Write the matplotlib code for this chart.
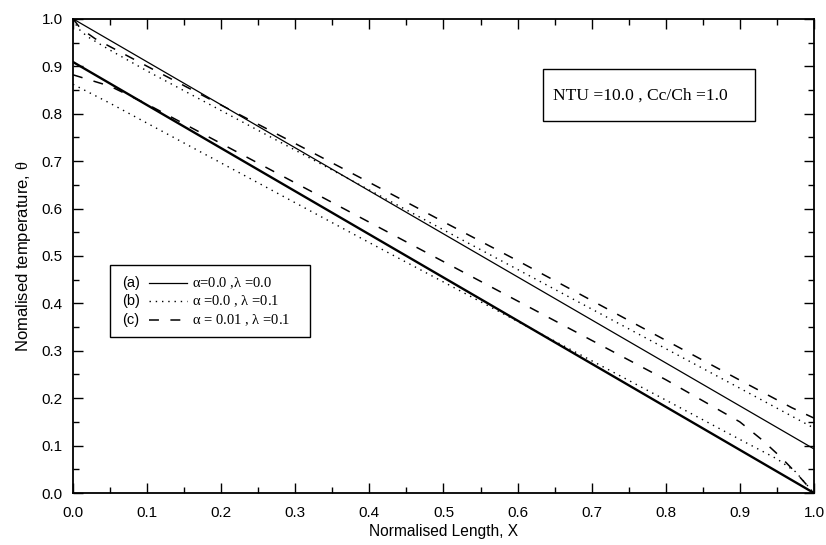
import matplotlib.pyplot as plt
import numpy as np
from matplotlib.patches import Rectangle
from matplotlib.ticker import MultipleLocator

# (a) alpha=0.0, lambda=0.0 : hot and cold fluid profiles
x_a = [0.0, 1.0]
hot_a = [1.0, 0.093]
cold_a = [0.909, 0.0]

# (b) alpha=0.0, lambda=0.1
x_b_hot = [0.0, 0.005, 0.01, 0.02, 0.05, 0.1, 0.3, 0.5, 0.7, 0.9, 1.0]
hot_b = [1.0, 0.985, 0.975, 0.962, 0.934, 0.890, 0.723, 0.555, 0.388, 0.221, 0.137]
x_b_cold = [0.0, 0.05, 0.1, 0.2, 0.3, 0.4, 0.5, 0.6, 0.7, 0.8, 0.9, 0.95, 0.975, 0.99, 1.0]
cold_b = [0.862, 0.822, 0.780, 0.696, 0.612, 0.528, 0.445, 0.362, 0.279, 0.196,
          0.113, 0.072, 0.045, 0.018, 0.0]

# (c) alpha=0.01, lambda=0.1
x_c_hot = [0.0, 0.01, 0.03, 0.1, 0.2, 0.3, 0.4, 0.5, 0.6, 0.7, 0.8, 0.9, 0.97, 1.0]
hot_c = [1.0, 0.980, 0.958, 0.900, 0.818, 0.737, 0.655, 0.572, 0.490, 0.406,
         0.322, 0.238, 0.180, 0.158]
x_c_cold = [0.0, 0.05, 0.1, 0.2, 0.4, 0.6, 0.8, 0.9, 0.93, 0.955, 0.975, 1.0]
cold_c = [0.882, 0.858, 0.820, 0.737, 0.571, 0.405, 0.239, 0.150, 0.112, 0.076, 0.044, 0.0]

xticks = np.round(np.arange(0, 1.01, 0.1), 1)
yticks = np.round(np.arange(0, 1.01, 0.1), 1)

legend_tags = ['(a)', '(b)', '(c)']
legend_texts = [r'$\alpha$=0.0 ,$\lambda$ =0.0',
                r'$\alpha$ =0.0 , $\lambda$ =0.1',
                r'$\alpha$ = 0.01 , $\lambda$ =0.1']

plt.rcParams['font.family'] = 'Liberation Sans'
plt.rcParams['mathtext.fontset'] = 'custom'
plt.rcParams['mathtext.rm'] = 'Liberation Serif'
plt.rcParams['mathtext.it'] = 'Liberation Serif'

fig = plt.figure(figsize=(8.26, 5.45), dpi=100)
ax = fig.add_axes([0.0884, 0.0954, 0.897, 0.870])

dotted = (0, (1, 3.5))
dashed = (0, (6.5, 7.5))

ax.plot(x_a, hot_a, color='black', lw=0.9, ls='-')
ax.plot(x_a, cold_a, color='black', lw=1.7, ls='-')
ax.plot(x_b_hot, hot_b, color='black', lw=1.0, ls=dotted)
ax.plot(x_b_cold, cold_b, color='black', lw=1.0, ls=dotted)
ax.plot(x_c_hot, hot_c, color='black', lw=1.1, ls=dashed)
ax.plot(x_c_cold, cold_c, color='black', lw=1.1, ls=dashed)

ax.set_xlim(0, 1)
ax.set_ylim(0, 1)
ax.set_xticks(xticks)
ax.set_yticks(yticks)
ax.set_xticklabels([f'{v:.1f}' for v in xticks])
ax.set_yticklabels([f'{v:.1f}' for v in yticks])
ax.xaxis.set_minor_locator(MultipleLocator(0.05))
ax.yaxis.set_minor_locator(MultipleLocator(0.05))
ax.tick_params(which='both', direction='in', top=True, right=True,
               labelsize=11, width=1.0)
ax.tick_params(axis='x', which='major', pad=9)
ax.tick_params(axis='y', which='major', pad=7.5)
ax.tick_params(which='major', length=7)
ax.tick_params(which='minor', length=4)
for sp in ax.spines.values():
    sp.set_linewidth(1.3)

ax.set_xlabel('Normalised Length, X', fontsize=11.2, labelpad=3)
ax.set_ylabel(r'Nomalised temperature, $\theta$', fontsize=12, labelpad=6)

# parameter box
ax.add_patch(Rectangle((0.634, 0.785), 0.286, 0.109, transform=ax.transAxes,
                       fill=False, lw=1.0, ec='black'))
ax.text(0.648, 0.838, 'NTU =10.0 , Cc/Ch =1.0', transform=ax.transAxes,
        family='Liberation Serif', fontsize=12.6, va='center', ha='left')

# hand-built legend
ax.add_patch(Rectangle((0.050, 0.329), 0.270, 0.152, transform=ax.transAxes,
                       fill=False, lw=1.0, ec='black'))
styles = [('-', 0.9), (dotted, 1.0), (dashed, 1.1)]
rows = [0.443, 0.404, 0.364]
for tag, txt, (ls, lw), yr in zip(legend_tags, legend_texts, styles, rows):
    ax.text(0.066, yr, tag, transform=ax.transAxes, fontsize=10.5,
            va='center', ha='left')
    ax.plot([0.102, 0.154], [yr, yr], transform=ax.transAxes,
            color='black', ls=ls, lw=lw)
    ax.text(0.160, yr, txt, transform=ax.transAxes, fontsize=10.5,
            family='Liberation Serif', va='center', ha='left')

fig.savefig('out.png', dpi=100)
